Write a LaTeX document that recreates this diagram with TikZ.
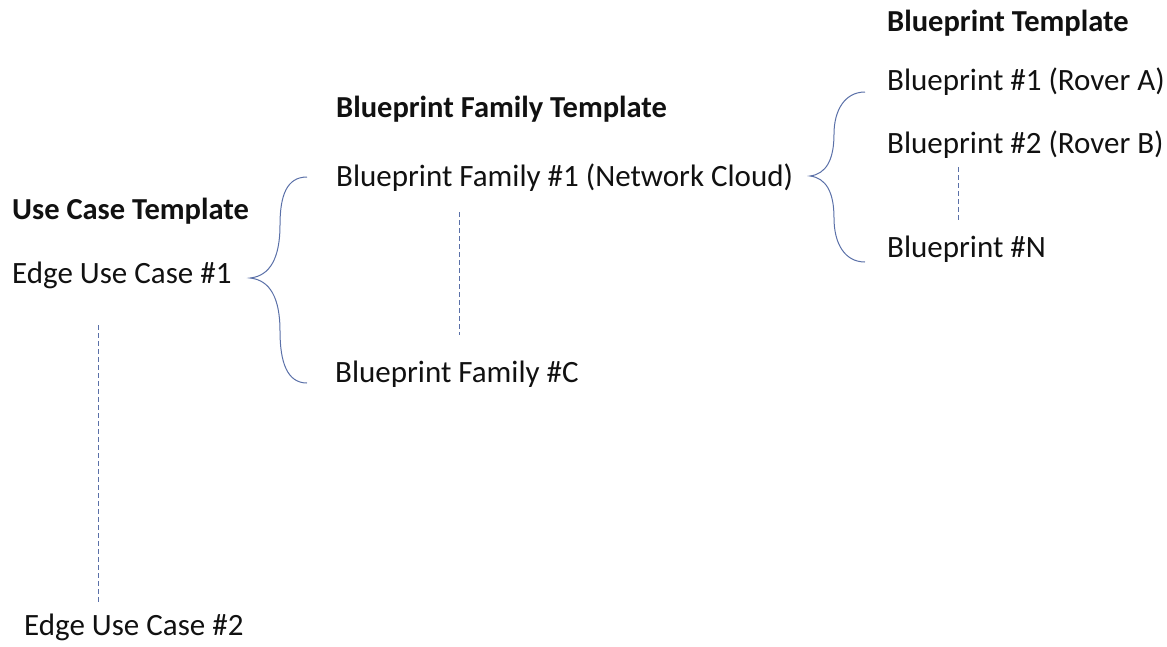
\documentclass[tikz,border=0pt]{standalone}
\usepackage{fontspec}
\setmainfont{Carlito}
\definecolor{linec}{HTML}{5A70A8}
\definecolor{txt}{HTML}{111111}
\begin{document}
\begin{tikzpicture}[x=1pt,y=-1pt,
  lbl/.style={anchor=base west,inner sep=0pt,font=\fontsize{31}{37}\selectfont,text=txt},
  hdr/.style={lbl,font=\fontsize{30.5}{37}\selectfont\bfseries},
  brace/.style={draw=linec,line width=1pt},
  dots/.style={draw=linec,line width=1pt,dash pattern=on 5pt off 3pt}]
\useasboundingbox (0,0) rectangle (1167,646);
% texts
\node[hdr] (uct) at (12,219) {Use Case Template};
\node[lbl] (uc1) at (12,283) {Edge Use Case \#1};
\node[lbl] (uc2) at (24,635) {Edge Use Case \#2};
\node[hdr] (bft) at (336,117) {Blueprint Family Template};
\node[lbl] (bf1) at (336,186) {Blueprint Family \#1 (Network Cloud)};
\node[lbl] (bfc) at (335,382) {Blueprint Family \#C};
\node[hdr] (bt) at (887,31) {Blueprint Template};
\node[lbl] (b1) at (887,90) {Blueprint \#1 (Rover A)};
\node[lbl] (b2) at (887,153) {Blueprint \#2 (Rover B)};
\node[lbl] (bn) at (887,257) {Blueprint \#N};
% brace coordinates
\coordinate (lt) at (307,177);
\coordinate (ltip) at (250,278);
\coordinate (lb) at (307,383);
\coordinate (rt) at (865,92);
\coordinate (rtip) at (810,176);
\coordinate (rb) at (865,262);
% dashed coordinates
\coordinate (d1a) at (98,325);
\coordinate (d1b) at (98,602);
\coordinate (d2a) at (459,212);
\coordinate (d2b) at (459,335);
\coordinate (d3a) at (958,167);
\coordinate (d3b) at (958,222);
% braces
\draw[brace] (lt) .. controls (287,177) and (280,195) .. (280,225)
  .. controls (280,258) and (270,276) .. (ltip)
  .. controls (270,280) and (280,298) .. (280,331)
  .. controls (280,362) and (287,383) .. (lb);
\draw[brace] (rt) .. controls (845,92) and (834,110) .. (834,134)
  .. controls (834,160) and (826,174) .. (rtip)
  .. controls (826,178) and (834,192) .. (834,218)
  .. controls (834,244) and (845,262) .. (rb);
% dashed lines
\draw[dots] (d1a) -- (d1b);
\draw[dots] (d2a) -- (d2b);
\draw[dots] (d3a) -- (d3b);
\end{tikzpicture}
\end{document}
